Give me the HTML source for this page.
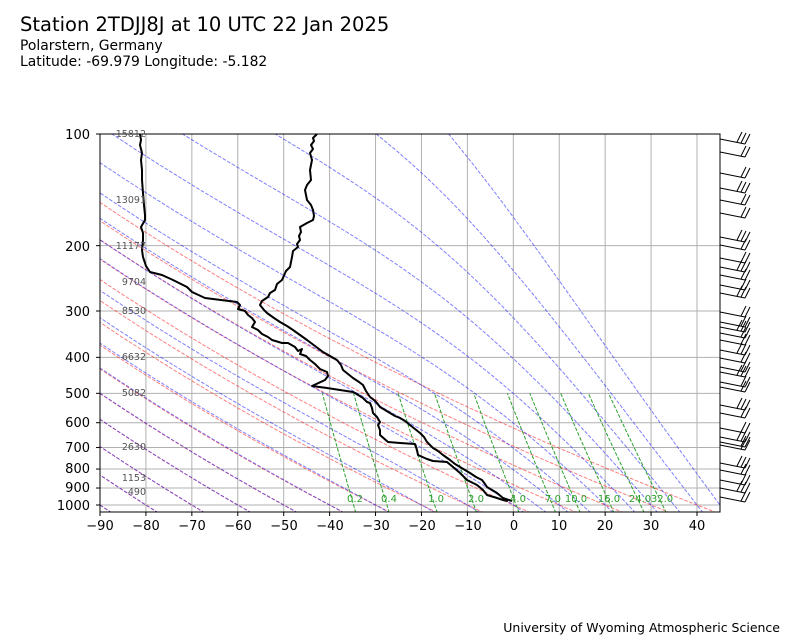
<!DOCTYPE html>
<html><head><meta charset="utf-8"><style>
body{margin:0;background:#fff;}
svg{display:block;font-family:"DejaVu Sans","Liberation Sans",sans-serif;}
</style></head><body>
<svg id="s" width="800" height="640" xmlns="http://www.w3.org/2000/svg">
<rect width="800" height="640" fill="#fff"/>
<defs><clipPath id="c"><rect x="100" y="134" width="620" height="378"/></clipPath></defs>
<g id="grid"></g>
<g id="lines" clip-path="url(#c)"></g>
<g id="prof" clip-path="url(#c)"></g>
<rect x="100" y="134" width="620" height="378" fill="none" stroke="#000" stroke-width="1"/>
<g id="ticks"></g>
<g id="barbs" stroke="#000" stroke-width="1" fill="none"></g>
<text x="20" y="31" font-size="19.5">Station 2TDJJ8J at 10 UTC 22 Jan 2025</text>
<text x="20" y="50" font-size="13.9">Polarstern, Germany</text>
<text x="20" y="66" font-size="13.9">Latitude: -69.979 Longitude: -5.182</text>
<text x="780" y="632" font-size="12.5" text-anchor="end">University of Wyoming Atmospheric Science</text>
<g font-size="13" text-anchor="end">
<text x="90" y="139">100</text><text x="90" y="251">200</text><text x="90" y="316">300</text><text x="90" y="362">400</text><text x="90" y="398">500</text><text x="90" y="427">600</text><text x="90" y="452">700</text><text x="90" y="473">800</text><text x="90" y="492">900</text><text x="90" y="510">1000</text>
</g>
<g font-size="13" text-anchor="middle">
<text x="100" y="530">−90</text><text x="146" y="530">−80</text><text x="192" y="530">−70</text><text x="238" y="530">−60</text><text x="284" y="530">−50</text><text x="330" y="530">−40</text><text x="376" y="530">−30</text><text x="422" y="530">−20</text><text x="468" y="530">−10</text><text x="514" y="530">0</text><text x="559" y="530">10</text><text x="605" y="530">20</text><text x="651" y="530">30</text><text x="697" y="530">40</text>
</g>
<g font-size="9.5" fill="#555" text-anchor="end">
<text x="146" y="137">15812</text><text x="146" y="203">13091</text><text x="146" y="249">11177</text><text x="146" y="285">9704</text><text x="146" y="314">8530</text><text x="146" y="360">6632</text><text x="146" y="396">5082</text><text x="146" y="450">2630</text><text x="146" y="481">1153</text><text x="146" y="495">490</text>
</g>
<g font-size="10" fill="#2ca02c" text-anchor="middle" id="mlab">
<text x="355" y="502">0.2</text><text x="389" y="502">0.4</text><text x="436" y="502">1.0</text><text x="476" y="502">2.0</text><text x="518" y="502">4.0</text><text x="553" y="502">7.0</text><text x="576" y="502">10.0</text><text x="609" y="502">16.0</text><text x="640" y="502">24.0</text><text x="662" y="502">32.0</text>
</g>
</svg>
<script>
var NS="http://www.w3.org/2000/svg";
function X(t){return 100+(t+90)*4.5923;}
function Y(p){return 134+371*Math.log10(p/100);}
function add(g,tag,a){var e=document.createElementNS(NS,tag);for(var k in a)e.setAttribute(k,a[k]);document.getElementById(g).appendChild(e);return e;}
function pl(g,pts,col,dash,w){add(g,"polyline",{points:pts.map(function(q){return q[0].toFixed(1)+","+q[1].toFixed(1)}).join(" "),fill:"none",stroke:col,"stroke-width":w||1,"stroke-dasharray":dash||"","stroke-linejoin":"round"});}
for(var t=-90;t<=40;t+=10){add("grid","line",{x1:X(t),x2:X(t),y1:134,y2:512,stroke:"#b0b0b0","stroke-width":1});add("ticks","line",{x1:X(t),x2:X(t),y1:512,y2:516,stroke:"#000"});}
[100,200,300,400,500,600,700,800,900,1000].forEach(function(p){add("grid","line",{x1:100,x2:720,y1:Y(p),y2:Y(p),stroke:"#b0b0b0"});add("ticks","line",{x1:96,x2:100,y1:Y(p),y2:Y(p),stroke:"#000"});});
var P=[];for(var i=0;i<=60;i++)P.push(1050-(950)*i/60);
for(var t0=-90;t0<=40;t0+=10){var th=t0+273.15;pl("lines",P.map(function(p){return [X(th*Math.pow(p/1000,0.2857)-273.15),Y(p)]}),"rgba(255,0,0,0.5)","3.7,1.6");}
function es(T){var c=T-273.15;return 6.112*Math.exp(17.67*c/(c+243.5));}
function dTdp(T,p){var e=es(T),rs=0.622*e/(p-e);return (287.04*T+2.501e6*rs)/(1005.7+2.501e6*2.501e6*rs*0.622/(287.04*T*T))/p;}
var mt=[];for(var t=-90;t<0;t+=10)mt.push(t);for(var t=0;t<=45;t+=5)mt.push(t);
mt.forEach(function(t0){var pts=[];var T=t0+273.15,p=1000;
 var T2=T;for(var q=1000;q<1050;q+=1){T2+=dTdp(T2,q)*1;}
 pts=[[X(T2-273.15),Y(1050)],[X(t0),Y(1000)]];
 for(p=1000;p>100;p-=1){T-=dTdp(T,p)*1;if(p%10==1)pts.push([X(T-273.15),Y(p-1)]);}
 pl("lines",pts,"rgba(0,0,255,0.5)","3.7,1.6");});
[0.0002,0.0004,0.001,0.002,0.004,0.007,0.01,0.016,0.024,0.032].forEach(function(w){var pts=[];for(var p=1050;p>=500;p-=10){var e=w*p/(0.622+w),l=Math.log(e/6.112);pts.push([X(243.5*l/(17.67-l)),Y(p)]);}pl("lines",pts,"#2ca02c","3.7,1.6");});
var Tp=[[317,134],[313,138],[314,141],[311,145],[313,149],[310,153],[312,160],[310,170],[311,180],[307,185],[305,190],[307,200],[311,205],[313,210],[314,216],[313,220],[307,223],[300,227],[301,232],[299,236],[300,240],[297,244],[298,247],[293,251],[292,257],[291,262],[290,267],[286,271],[282,280],[277,284],[275,290],[270,293],[268,297],[262,301],[260,305],[264,310],[267,313],[274,318],[280,322],[287,326],[293,330],[300,335],[307,340],[315,346],[323,352],[330,356],[337,360],[341,365],[343,370],[348,374],[353,378],[359,382],[363,385],[366,391],[370,397],[374,400],[377,403],[380,407],[385,410],[390,413],[395,416],[400,418],[405,421],[410,425],[415,429],[420,433],[424,437],[427,442],[430,445],[433,448],[438,451],[443,455],[450,460],[455,464],[460,467],[465,470],[470,473],[476,477],[482,480],[485,484],[487,487],[492,490],[497,493],[503,498],[512,501]];
var Td=[[140,134],[141,140],[140,145],[142,153],[141,160],[142,170],[142,180],[143,193],[144,205],[145,215],[145,220],[141,227],[143,233],[143,240],[142,250],[143,257],[146,266],[150,272],[162,275],[173,280],[187,287],[192,292],[205,298],[237,302],[240,305],[238,309],[245,311],[248,315],[252,318],[255,322],[252,327],[258,330],[262,334],[268,337],[272,340],[282,343],[288,343],[295,347],[298,351],[302,349],[300,354],[306,356],[310,360],[315,364],[320,369],[327,372],[328,376],[325,380],[312,386],[327,388],[353,392],[355,393],[363,398],[367,402],[370,403],[372,408],[373,413],[377,417],[380,422],[378,425],[380,430],[380,435],[388,442],[400,443],[415,444],[417,450],[418,455],[427,459],[433,461],[447,462],[453,467],[460,473],[467,480],[477,485],[483,490],[487,495],[497,498],[503,500],[508,501]];
pl("prof",Tp,"#000","",2);pl("prof",Td,"#000","",2);
[139,152,173,188,200,213,237,245,258,267,275,285,293,312,322,327,333,340,350,358,367,372,382,387,405,413,428,437,442,445,463,470,480,488,497].forEach(function(y,i){
 var ex=745,ey=y+5;var d="M720,"+y+" L"+ex+","+ey;
 var n=(i%3==0)?3:2;for(var k=0;k<n;k++){var bx=ex-k*4,by=ey-k*1;d+=" M"+bx+","+by+" L"+(bx+5)+","+(by-10);}
 add("barbs","path",{d:d});});
</script>
</body></html>
